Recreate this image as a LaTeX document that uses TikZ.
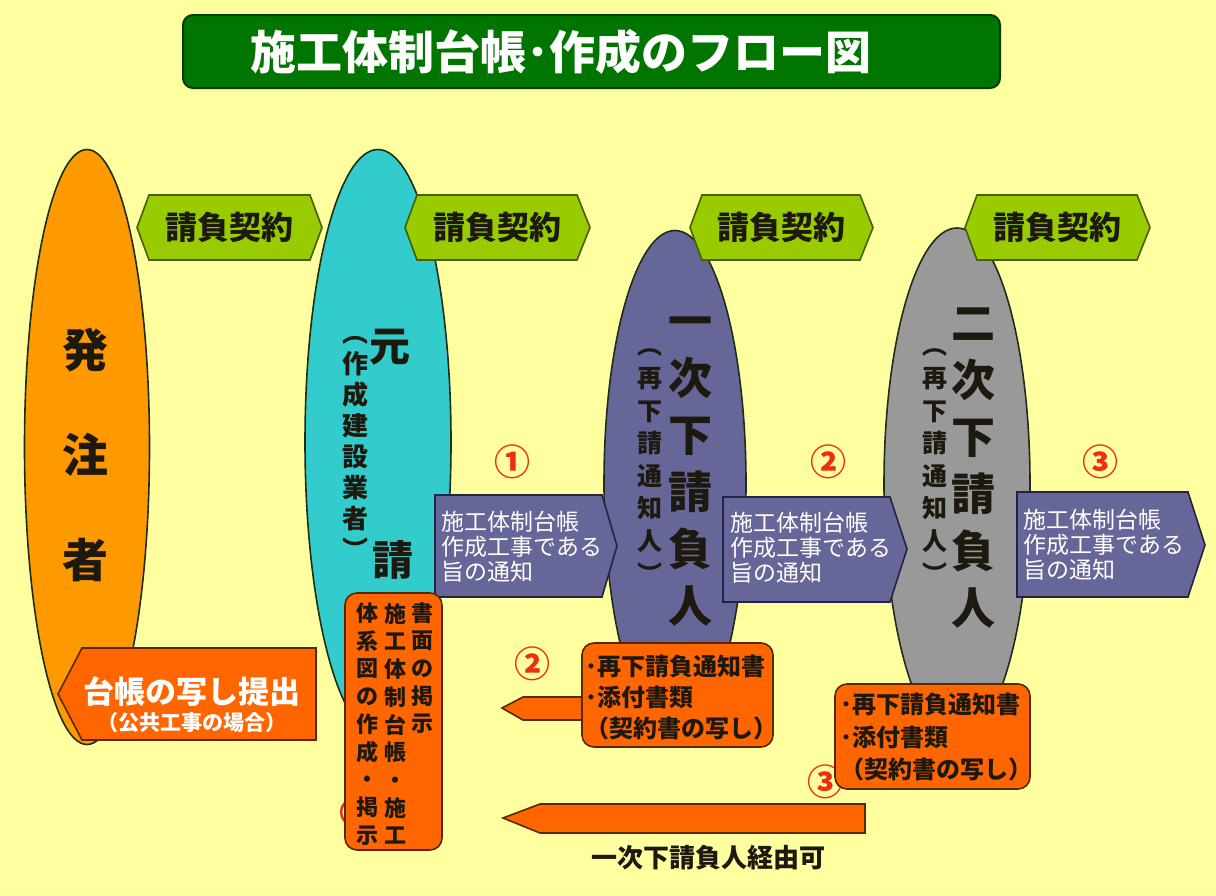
\documentclass[tikz,border=0pt]{standalone}
\usepackage{fontspec}
\setmainfont{Noto Sans CJK JP}
\usetikzlibrary{shapes.geometric}
\definecolor{bg}{RGB}{255,255,160}
\definecolor{titlegreen}{RGB}{0,118,0}
\definecolor{titleedge}{RGB}{0,60,0}
\definecolor{orangeA}{RGB}{255,153,0}
\definecolor{tealA}{RGB}{51,204,204}
\definecolor{purpleA}{RGB}{102,102,153}
\definecolor{grayA}{RGB}{153,153,153}
\definecolor{edge}{RGB}{30,45,25}
\definecolor{hexgreen}{RGB}{153,204,0}
\definecolor{hexedge}{RGB}{70,95,0}
\definecolor{blueedge}{RGB}{35,35,70}
\definecolor{orangeB}{RGB}{255,102,0}
\definecolor{oedge}{RGB}{90,40,0}
\definecolor{numred}{RGB}{240,45,20}
\definecolor{textdark}{RGB}{30,25,15}
\begin{document}
\begin{tikzpicture}[x=0.5pt,y=-0.5pt,
  ell/.style={ellipse, draw=edge, line width=0.8pt, inner sep=0pt},
  hexbox/.style={fill=hexgreen, draw=hexedge, line width=0.8pt},
  hexlabel/.style={font=\fontsize{16}{18}\selectfont\bfseries, text=textdark, inner sep=0pt},
  bluearrow/.style={fill=purpleA, draw=blueedge, line width=0.8pt},
  bluelabel/.style={font=\fontsize{11.5}{12.6}\selectfont, text=white, align=left, anchor=west, inner sep=0pt},
  num/.style={font=\fontsize{18}{18}\selectfont\bfseries, text=numred, inner sep=0pt},
  obox/.style={fill=orangeB, draw=oedge, line width=0.8pt, rounded corners=6pt},
  oshape/.style={fill=orangeB, draw=oedge, line width=0.8pt},
  olabel/.style={font=\fontsize{12}{15.5}\selectfont\bfseries, text=textdark, align=left, anchor=west, inner sep=0pt},
  bigv/.style={font=\fontsize{22}{28.5}\selectfont\bfseries, align=center, inner sep=0pt, text=textdark},
  smallv/.style={font=\fontsize{12.5}{16.3}\selectfont\bfseries, align=center, inner sep=0pt, text=textdark},
  boxv/.style={font=\fontsize{11}{13.85}\selectfont\bfseries, align=center, inner sep=0pt, text=textdark}
]
\useasboundingbox (0,0) rectangle (1216,895);
\fill[bg] (0,0) rectangle (1216,895);

% title
\draw[fill=titlegreen, draw=titleedge, line width=1pt, rounded corners=5pt] (183,15) rectangle (1000,88);
\node[font=\fontsize{23}{26}\selectfont\bfseries, text=white, inner sep=0pt] (title) at (561,52) {施工体制台帳･作成のフロー図};

% ellipses
\node[ell, fill=orangeA, minimum width=62.5pt, minimum height=297.5pt] (hacchu) at (87,447) {};
\node[ell, fill=tealA, minimum width=73pt, minimum height=292.5pt] (moto) at (378,442) {};
\node[ell, fill=purpleA, minimum width=71pt, minimum height=252.5pt] (ichiji) at (675,483) {};
\node[ell, fill=grayA, minimum width=73pt, minimum height=256pt] (niji) at (957,484) {};

% ellipse texts
\node[font=\fontsize{23}{52.5}\selectfont\bfseries, align=center, inner sep=0pt, text=textdark] (thacchu) at (85,455) {発\\注\\者};
\node[font=\fontsize{20.5}{22}\selectfont\bfseries, inner sep=0pt, text=textdark] (tmoto1) at (390,347) {元};
\node[font=\fontsize{20.5}{22}\selectfont\bfseries, inner sep=0pt, text=textdark] (tmoto2) at (393,560) {請};
\node[font=\fontsize{13}{15.5}\selectfont\bfseries, align=center, inner sep=0pt, text=textdark] (tmoto3) at (355,448) {︵\\作\\成\\建\\設\\業\\者\\︶};
\node[bigv] (tichi1) at (690,472) {一\\次\\下\\請\\負\\人};
\node[smallv] (tichi2) at (650,466) {︵\\再\\下\\請\\通\\知\\人\\︶};
\node[bigv] (tniji1) at (973,468) {二\\次\\下\\請\\負\\人};
\node[smallv] (tniji2) at (935,466) {︵\\再\\下\\請\\通\\知\\人\\︶};

% contract hexagons
\draw[hexbox] (137,227.5) -- (149,195) -- (310,195) -- (322,227.5) -- (310,260) -- (149,260) -- cycle;
\node[hexlabel] (k1) at (229.5,227.5) {請負契約};
\draw[hexbox] (405,227.5) -- (417,195) -- (577,195) -- (590,227.5) -- (577,260) -- (417,260) -- cycle;
\node[hexlabel] (k2) at (497.5,227.5) {請負契約};
\draw[hexbox] (690,227.5) -- (702,195) -- (860,195) -- (873,227.5) -- (860,260) -- (702,260) -- cycle;
\node[hexlabel] (k3) at (781.5,227.5) {請負契約};
\draw[hexbox] (965,227.5) -- (977,195) -- (1137,195) -- (1150,227.5) -- (1137,260) -- (977,260) -- cycle;
\node[hexlabel] (k4) at (1057.5,227.5) {請負契約};

% notification arrows
\draw[bluearrow] (435,495) -- (602,495) -- (617,546) -- (602,597) -- (435,597) -- cycle;
\node[bluelabel] (n1) at (441,547) {施工体制台帳\\作成工事である\\旨の通知};
\draw[bluearrow] (723,497) -- (890,497) -- (907,549) -- (890,602) -- (723,602) -- cycle;
\node[bluelabel] (n2) at (730,548) {施工体制台帳\\作成工事である\\旨の通知};
\draw[bluearrow] (1017,492) -- (1188,492) -- (1205,545) -- (1188,597) -- (1017,597) -- cycle;
\node[bluelabel] (n3) at (1023,545) {施工体制台帳\\作成工事である\\旨の通知};

% circled numbers
\node[num] (c1) at (512,462) {①};
\node[num] (c2) at (828,462) {②};
\node[num] (c3) at (1100,462) {③};
\node[num] (c2b) at (532,664) {②};
\node[num] (c3b) at (825,782) {③};
\node[circle, draw=numred, line width=1.2pt, minimum size=13pt, inner sep=0pt] (c1b) at (354,812) {};

% submission to orderer
\draw[oshape] (58,694) -- (82,648) -- (316,648) -- (316,740) -- (82,740) -- cycle;
\node[font=\fontsize{15.5}{17}\selectfont\bfseries, text=white, inner sep=0pt] (daicho1) at (192,692) {台帳の写し提出};
\node[font=\fontsize{10.5}{12}\selectfont\bfseries, text=white, inner sep=0pt] (daicho2) at (192,723) {（公共工事の場合）};

% vertical box under 元請
\draw[obox] (345,593) rectangle (442,850);
\node[boxv] (v1) at (367,724) {体\\系\\図\\の\\作\\成\\・\\掲\\示};
\node[boxv] (v2) at (395,724) {施\\工\\体\\制\\台\\帳\\・\\施\\工};
\node[boxv] (v3) at (422,668) {書\\面\\の\\掲\\示};

% arrow 2 and box 2
\draw[oshape] (502,708) -- (523,697) -- (595,697) -- (595,720) -- (523,720) -- cycle;
\draw[obox] (582,643) rectangle (773,747);
\node[olabel] (b2) at (585,697) {･再下請負通知書\\･添付書類\\（契約書の写し）};

% long arrow and box 3
\draw[oshape] (503,818) -- (540,804) -- (865,804) -- (865,833) -- (540,833) -- cycle;
\draw[obox] (835,684) rectangle (1030,789);
\node[olabel, font=\fontsize{12}{16.2}\selectfont\bfseries] (b3) at (840,737) {･再下請負通知書\\･添付書類\\（契約書の写し）};
\node[font=\fontsize{13}{15}\selectfont\bfseries, text=textdark, inner sep=0pt] (via) at (708,858) {一次下請負人経由可};
\end{tikzpicture}
\end{document}
